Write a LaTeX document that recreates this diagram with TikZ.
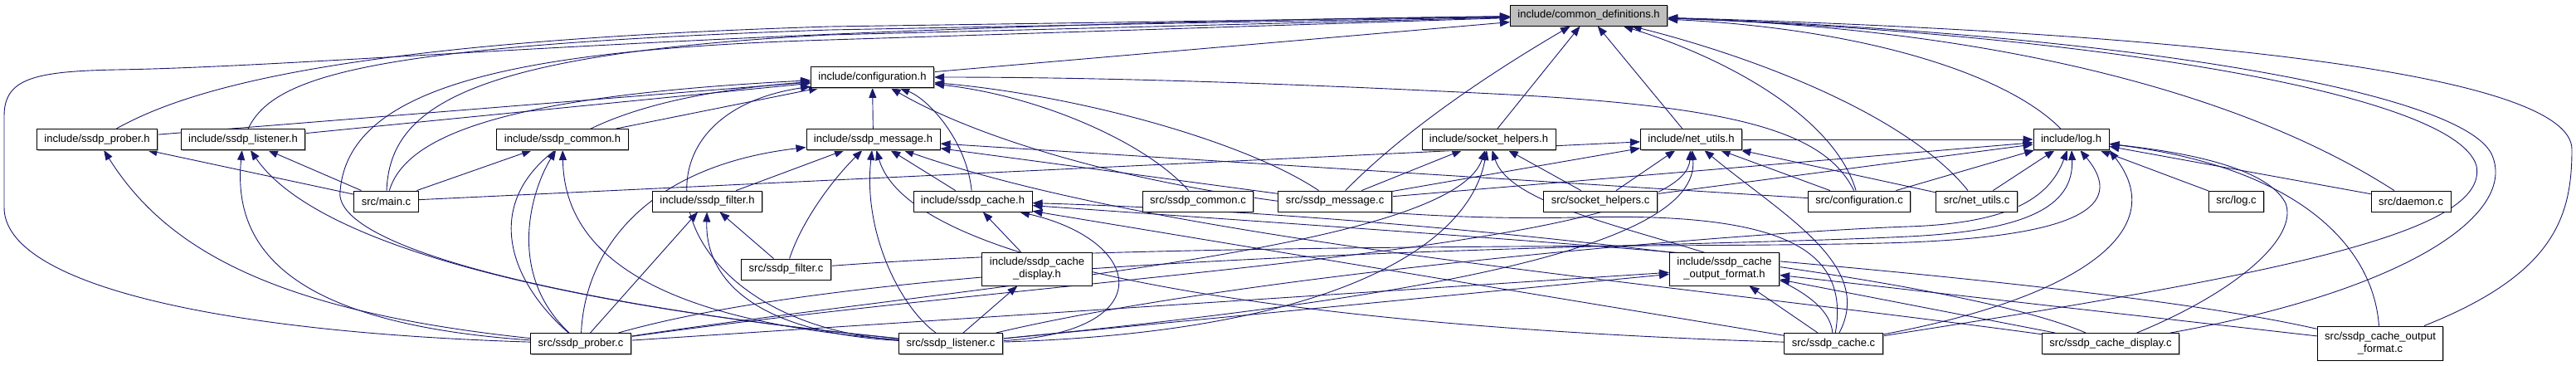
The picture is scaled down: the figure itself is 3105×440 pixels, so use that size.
\documentclass[tikz,border=0pt]{standalone}
\usepackage{fontspec}
\setmainfont{Liberation Sans}
\usepackage{tikz}
\usetikzlibrary{arrows.meta,shadows}
\definecolor{edgeblue}{RGB}{25,25,112}
\definecolor{filegray}{RGB}{191,191,191}
\pgfdeclarelayer{edges}
\pgfsetlayers{edges,main}

\tikzset{
  file/.style={draw=black, fill=white, line width=0.9pt, inner xsep=9pt, inner ysep=2pt,
    minimum height=25pt, align=center, font=\fontsize{13}{15}\selectfont,
    drop shadow={shadow xshift=1.3pt, shadow yshift=-1.3pt, fill=gray!60, opacity=1}},
  inc/.style={edgeblue, line width=0.9pt, -{Triangle[length=12pt,width=9pt]}}
}

\begin{document}
\begin{tikzpicture}[x=1pt, y=-1pt]
  \useasboundingbox (0,0) rectangle (3105,440);

  % Headers
  \node[file, fill=filegray] (commondefs) at (1915,18.5) {include/common\_definitions.h};
  \node[file] (config) at (1051.5,93) {include/configuration.h};
  \node[file] (proberh) at (117,168) {include/ssdp\_prober.h};
  \node[file] (listenerh) at (293,168) {include/ssdp\_listener.h};
  \node[file] (commonh) at (678,168) {include/ssdp\_common.h};
  \node[file] (messageh) at (1052.5,168) {include/ssdp\_message.h};
  \node[file] (sockh) at (1794.5,168) {include/socket\_helpers.h};
  \node[file] (netutilsh) at (2038.5,168) {include/net\_utils.h};
  \node[file] (logh) at (2496.5,168) {include/log.h};
  \node[file] (filterh) at (852.5,242.5) {include/ssdp\_filter.h};
  \node[file] (cacheh) at (1172.5,242.5) {include/ssdp\_cache.h};
  \node[file, minimum height=40pt] (cachedisph) at (1250,324) {include/ssdp\_cache\\\_display.h};
  \node[file, minimum height=40pt] (cacheouth) at (2078.5,324) {include/ssdp\_cache\\\_output\_format.h};

  % Sources
  \node[file] (mainc) at (465.5,242.5) {src/main.c};
  \node[file] (commonc) at (1444,242.5) {src/ssdp\_common.c};
  \node[file] (messagec) at (1609,242.5) {src/ssdp\_message.c};
  \node[file] (sockc) at (1929,242.5) {src/socket\_helpers.c};
  \node[file] (configc) at (2241,242.5) {src/configuration.c};
  \node[file] (netutilsc) at (2382.5,242.5) {src/net\_utils.c};
  \node[file] (logc) at (2695.5,242.5) {src/log.c};
  \node[file] (daemonc) at (2906,242.5) {src/daemon.c};
  \node[file] (filterc) at (947.5,324.5) {src/ssdp\_filter.c};
  \node[file] (proberc) at (700,414) {src/ssdp\_prober.c};
  \node[file] (listenerc) at (1146,414) {src/ssdp\_listener.c};
  \node[file] (cachec) at (2210,414) {src/ssdp\_cache.c};
  \node[file] (cachedispc) at (2544,414) {src/ssdp\_cache\_display.c};
  \node[file, minimum height=41pt] (cacheoutc) at (2869,413.5) {src/ssdp\_cache\_output\\\_format.c};

  \begin{pgfonlayer}{edges}
  % Straight includes
  \foreach \src/\dst in {config/commondefs, sockh/commondefs, netutilsh/commondefs,
      proberh/config, listenerh/config, commonh/config, messageh/config,
      mainc/proberh, mainc/listenerh, mainc/commonh,
      filterh/messageh, cacheh/messageh, messagec/messageh, configc/messageh,
      proberc/filterh, filterc/filterh, cachedisph/cacheh, cachec/cacheh,
      listenerc/cachedisph,
      proberc/cacheouth, listenerc/cacheouth, cachec/cacheouth, cachedispc/cacheouth, cacheoutc/cacheouth,
      messagec/sockh, sockc/sockh,
      mainc/netutilsh, messagec/netutilsh, sockc/netutilsh, configc/netutilsh, netutilsc/netutilsh,
      netutilsh/logh, messagec/logh, sockc/logh, configc/logh, netutilsc/logh, logc/logh, daemonc/logh}
    \draw[inc] (\src) -- (\dst);

  % Curved includes of common_definitions.h
  \draw[inc] (proberc) .. controls (250,400) and (5,340) .. (5,250) -- (5,140)
    .. controls (5,95) and (40,86) .. (140,84) .. controls (400,80) and (900,30) .. (commondefs);
  \draw[inc] (proberh) .. controls (230,105) and (420,50) .. (1000,32) -- (commondefs);
  \draw[inc] (listenerh) .. controls (330,90) and (450,55) .. (1000,36) -- (commondefs);
  \draw[inc] (mainc) .. controls (470,130) and (560,65) .. (1000,42) -- (commondefs);
  \draw[inc] (listenerc) .. controls (700,370) and (400,300) .. (410,230)
    .. controls (420,110) and (600,60) .. (1000,48) -- (commondefs);
  \draw[inc] (messagec) .. controls (1700,150) and (1810,80) .. (commondefs);
  \draw[inc] (configc) .. controls (2210,140) and (2080,70) .. (commondefs);
  \draw[inc] (netutilsc) .. controls (2300,140) and (2120,70) .. (commondefs);
  \draw[inc] (logh) .. controls (2420,90) and (2250,35) .. (commondefs);
  \draw[inc] (daemonc) .. controls (2700,110) and (2400,35) .. (commondefs);
  \draw[inc] (cachec) .. controls (2750,330) and (3000,280) .. (2985,200)
    .. controls (2960,110) and (2500,40) .. (commondefs);
  \draw[inc] (cachedispc) .. controls (2900,350) and (3030,260) .. (3005,190)
    .. controls (2980,110) and (2550,40) .. (commondefs);
  \draw[inc] (cacheoutc) .. controls (3080,330) and (3100,260) .. (3100,180)
    .. controls (3100,90) and (2650,40) .. (commondefs);

  % Curved includes of configuration.h
  \draw[inc] (mainc) .. controls (490,160) and (620,115) .. (config);
  \draw[inc] (proberc) .. controls (570,300) and (560,130) .. (config);
  \draw[inc] (listenerc) .. controls (800,390) and (740,140) .. (config);
  \draw[inc] (cacheh) .. controls (1165,170) and (1120,120) .. (config);
  \draw[inc] (commonc) .. controls (1380,170) and (1250,115) .. (config);
  \draw[inc] (messagec) .. controls (1500,170) and (1300,115) .. (config);
  \draw[inc] (cachec) .. controls (2230,300) and (2150,255) .. (1900,262)
    .. controls (1500,270) and (1200,180) .. (config);
  \draw[inc] (configc) .. controls (2200,160) and (2100,128) .. (1800,113)
    .. controls (1500,98) and (1300,93) .. (config);

  % Prober, listener and common headers
  \draw[inc] (proberc) .. controls (330,375) and (200,300) .. (proberh);
  \draw[inc] (proberc) .. controls (350,390) and (280,300) .. (listenerh);
  \draw[inc] (listenerc) .. controls (600,360) and (370,280) .. (listenerh);
  \draw[inc] (proberc) .. controls (610,330) and (640,230) .. (commonh);
  \draw[inc] (listenerc) .. controls (760,385) and (680,290) .. (commonh);

  % Message, filter and cache headers
  \draw[inc] (proberc) .. controls (705,300) and (780,200) .. (messageh);
  \draw[inc] (filterc) .. controls (965,270) and (1000,220) .. (messageh);
  \draw[inc] (listenerc) .. controls (1085,370) and (1040,280) .. (messageh);
  \draw[inc] (cachec) .. controls (1600,395) and (1100,330) .. (messageh);
  \draw[inc] (cachedispc) .. controls (2000,340) and (1400,290) .. (messageh);
  \draw[inc] (listenerc) .. controls (900,400) and (850,330) .. (filterh);
  \draw[inc] (listenerc) .. controls (1400,400) and (1380,290) .. (cacheh);
  \draw[inc] (cachedispc) .. controls (2350,330) and (1700,258) .. (cacheh);
  \draw[inc] (cacheoutc) .. controls (2500,330) and (1700,280) .. (cacheh);

  % Socket helpers and net utils
  \draw[inc] (proberc) .. controls (1200,340) and (1750,300) .. (sockh);
  \draw[inc] (listenerc) .. controls (1600,400) and (1770,300) .. (sockh);
  \draw[inc] (cachec) .. controls (2200,300) and (1830,280) .. (sockh);
  \draw[inc] (proberc) .. controls (1300,330) and (2030,300) .. (netutilsh);
  \draw[inc] (listenerc) .. controls (1700,360) and (2050,300) .. (netutilsh);
  \draw[inc] (cachec) .. controls (2260,320) and (2150,260) .. (netutilsh);

  % Log
  \draw[inc] (listenerc) .. controls (1500,330) and (2100,280) .. (2300,273)
    .. controls (2420,269) and (2470,240) .. (logh);
  \draw[inc] (proberc) .. controls (1100,300) and (2000,300) .. (2300,285)
    .. controls (2440,278) and (2500,250) .. (logh);
  \draw[inc] (filterc) .. controls (1400,290) and (2100,300) .. (2300,292)
    .. controls (2500,284) and (2565,250) .. (logh);
  \draw[inc] (cachec) .. controls (2500,360) and (2620,280) .. (logh.south east);
  \draw[inc] (cachedispc) .. controls (2700,350) and (2770,285) .. (2755,245)
    .. controls (2730,195) and (2600,180) .. (logh);
  \draw[inc] (cacheoutc) .. controls (2860,290) and (2760,200) .. (logh);
  \end{pgfonlayer}

\end{tikzpicture}
\end{document}
